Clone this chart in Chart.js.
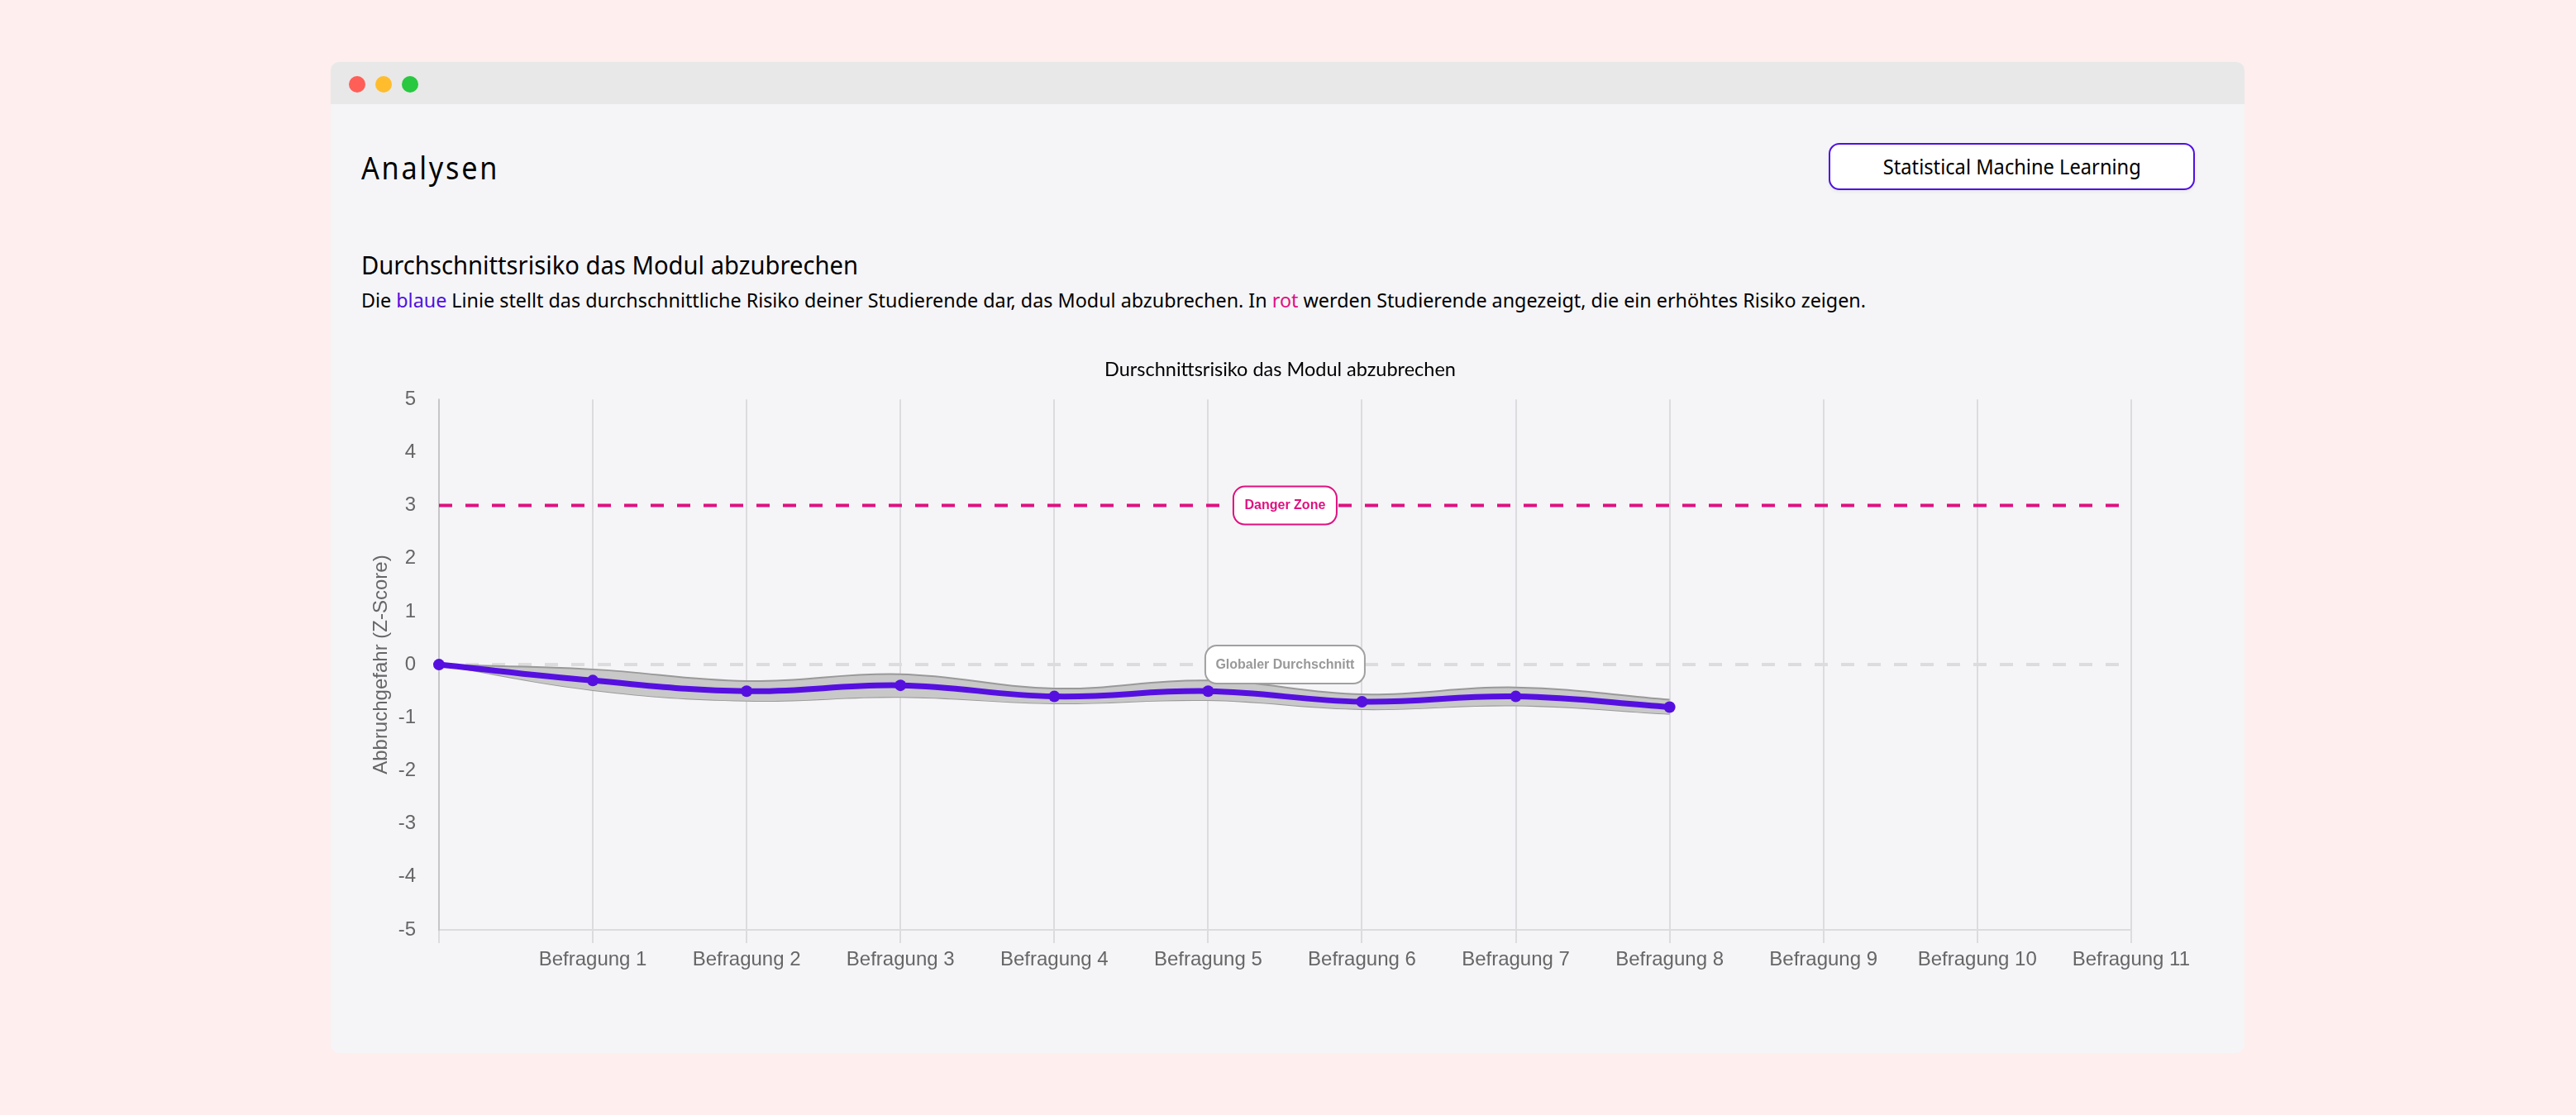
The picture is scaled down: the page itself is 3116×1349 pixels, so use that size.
<!DOCTYPE html>
<html lang="de">
<head>
<meta charset="utf-8">
<title>Analysen</title>
<script src="https://cdn.jsdelivr.net/npm/chart.js@4"></script>
<style>
  html, body { margin: 0; width: 3116px; height: 1349px; overflow: hidden; background: #feeeee; }
  body { font-family: "Noto Sans", sans-serif; color: #000; position: relative; }
  .card { position: absolute; left: 400px; top: 75px; width: 2315px; height: 1199px; background: #f5f5f8; border-radius: 10px; overflow: hidden; }
  .bar { position: absolute; left: 0; top: 0; width: 100%; height: 51px; background: #e8e8e8; }
  .dot { position: absolute; top: 17px; width: 20px; height: 20px; border-radius: 50%; }
  .txt { position: absolute; white-space: nowrap; transform-origin: left center; }
  .btn { position: absolute; left: 2212px; top: 173px; width: 443px; height: 57px; box-sizing: border-box; border: 2px solid #5010e0; border-radius: 13px; background: #fff; box-shadow: 0 2px 4px rgba(0,0,0,.06); text-align: center; line-height: 52px; font-size: 25px; }
  .btn span { display: inline-block; white-space: nowrap; }
  #chartBox { position: absolute; left: 437px; top: 420px; width: 2218px; height: 765px; }
</style>
</head>
<body>
<div class="card">
  <div class="bar">
    <div class="dot" style="left:22px;background:#ff5f57"></div>
    <div class="dot" style="left:54px;background:#ffbd2e"></div>
    <div class="dot" style="left:86px;background:#28c840"></div>
  </div>
</div>
<div class="txt" data-w="167" style="left:437px;top:176px;font-size:38px;letter-spacing:3px">Analysen</div>
<div class="txt" data-w="601" style="left:437px;top:299px;font-size:31px">Durchschnittsrisiko das Modul abzubrechen</div>
<div class="txt" data-w="1820" style="left:437px;top:346px;font-size:24px">Die <span style="color:#5010e0">blaue</span> Linie stellt das durchschnittliche Risiko deiner Studierende dar, das Modul abzubrechen. In <span style="color:#e0107f">rot</span> werden Studierende angezeigt, die ein erhöhtes Risiko zeigen.</div>
<div class="btn"><span data-w="312">Statistical Machine Learning</span></div>
<div id="chartBox"><canvas id="riskChart" width="2218" height="765"></canvas></div>

<script>
const labels = ['', 'Befragung 1', 'Befragung 2', 'Befragung 3', 'Befragung 4', 'Befragung 5', 'Befragung 6', 'Befragung 7', 'Befragung 8', 'Befragung 9', 'Befragung 10', 'Befragung 11'];
const meanRisk = [0, -0.30, -0.50, -0.39, -0.60, -0.50, -0.70, -0.60, -0.80];
const bandUpper = [0, -0.09, -0.31, -0.18, -0.45, -0.30, -0.56, -0.43, -0.66];
const bandLower = [0, -0.48, -0.68, -0.61, -0.73, -0.67, -0.84, -0.77, -0.93];
const dangerLine = [3, 3, 3, 3, 3, 3, 3, 3, 3, 3, 3, 3];
const globalLine = [0, 0, 0, 0, 0, 0, 0, 0, 0, 0, 0, 0];
const chartTitle = 'Durschnittsrisiko das Modul abzubrechen';
const yAxisTitle = 'Abbruchgefahr (Z-Score)';
const dangerLabel = 'Danger Zone';
const globalLabel = 'Globaler Durchschnitt';

const blue = '#5510e0';
const pink = '#e0107f';
const axisFont = { family: '"Liberation Sans", Arial, sans-serif', size: 24 };

// the page font is wider than the original one, so squeeze the texts to their width
document.querySelectorAll('[data-w]').forEach(el => {
  el.style.transform = 'scaleX(' + (el.dataset.w / el.getBoundingClientRect().width) + ')';
});

// draws the two rounded boxes in the middle of their line
const lineLabels = {
  id: 'lineLabels',
  afterDatasetsDraw(chart) {
    const { ctx, chartArea, scales } = chart;
    const x = (chartArea.left + chartArea.right) / 2;
    const items = [
      { text: dangerLabel, value: dangerLine[0], color: pink, border: pink, boxWidth: 125 },
      { text: globalLabel, value: globalLine[0], color: '#999999', border: '#a0a0a0', boxWidth: 193 }
    ];
    ctx.save();
    ctx.font = 'bold 16px "Liberation Sans", Arial, sans-serif';
    ctx.textAlign = 'center';
    ctx.textBaseline = 'middle';
    items.forEach(item => {
      const y = scales.y.getPixelForValue(item.value);
      ctx.beginPath();
      ctx.roundRect(x - item.boxWidth / 2, y - 23, item.boxWidth, 46, 14);
      ctx.fillStyle = '#fff';
      ctx.fill();
      ctx.lineWidth = 2;
      ctx.strokeStyle = item.border;
      ctx.stroke();
      ctx.fillStyle = item.color;
      ctx.fillText(item.text, x, y);
    });
    ctx.restore();
  }
};

const config = {
  type: 'line',
  data: {
    labels: labels,
    datasets: [
      { data: meanRisk, borderColor: blue, backgroundColor: blue, borderWidth: 7, pointRadius: 7, pointBackgroundColor: blue, pointBorderWidth: 0, tension: 0.4, fill: false, clip: false },
      { data: bandUpper, borderColor: '#999999', borderWidth: 2, pointRadius: 0, tension: 0.4, fill: '+1', backgroundColor: '#c8c8c8' },
      { data: bandLower, borderColor: '#999999', borderWidth: 2, pointRadius: 0, tension: 0.4, fill: false },
      { data: globalLine, borderColor: '#dcdcdc', borderWidth: 4, borderDash: [16, 16], pointRadius: 0, fill: false },
      { data: dangerLine, borderColor: pink, borderWidth: 4, borderDash: [16, 16], pointRadius: 0, fill: false }
    ]
  },
  options: {
    responsive: false,
    devicePixelRatio: 1,
    animation: false,
    layout: { padding: { left: 10, right: 5 } },
    plugins: {
      legend: { display: false },
      tooltip: { enabled: false },
      title: {
        display: true,
        text: chartTitle,
        color: '#000',
        font: { family: 'Lato, "Noto Sans", sans-serif', size: 23.5, weight: 'normal' },
        padding: { top: 13, bottom: 22 }
      }
    },
    scales: {
      x: {
        grid: { color: 'rgba(0,0,0,0.1)', lineWidth: 2, tickLength: 16 },
        border: { color: 'rgba(0,0,0,0.1)', width: 2 },
        ticks: { color: '#666', font: axisFont, padding: 6, maxRotation: 0, autoSkip: false },
        afterFit: axis => { axis.height = 60; }
      },
      y: {
        min: -5,
        max: 5,
        grid: { display: false },
        border: { color: 'rgba(0,0,0,0.1)', width: 2 },
        ticks: { stepSize: 1, color: '#666', font: axisFont, padding: 20 },
        title: { display: true, text: yAxisTitle, color: '#666', font: axisFont, padding: { top: 0, bottom: 0 } },
        afterFit: axis => { axis.width = 84; }
      }
    }
  },
  plugins: [lineLabels]
};

new Chart(document.getElementById('riskChart'), config);
</script>
</body>
</html>
